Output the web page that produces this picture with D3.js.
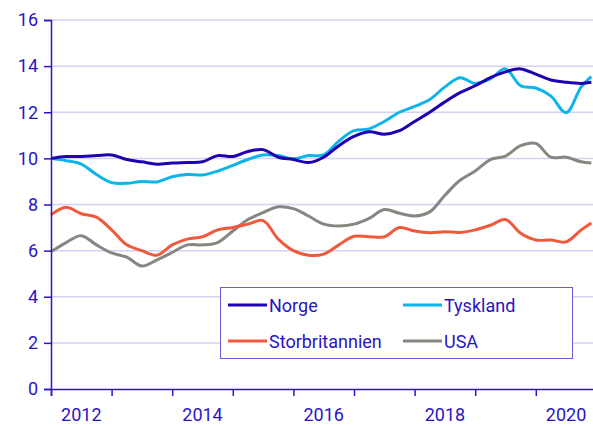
<!DOCTYPE html>
<html>
<head>
<meta charset="utf-8">
<script src="https://cdn.jsdelivr.net/npm/d3@7"></script>
<style>
  body { margin: 0; background: #fff; }
  svg { font-family: Roboto, "Noto Sans", sans-serif; }
</style>
</head>
<body>
<div id="chart"></div>
<script>
// months since Jan 2012
var months = [0, 3, 6, 9, 12, 15, 18, 21, 24, 27, 30, 33, 36, 39, 42, 45, 48, 51,
              54, 57, 60, 63, 66, 69, 72, 75, 78, 81, 84, 87, 90, 93, 96, 99, 102, 105, 107];

var norge = [10.0, 10.08, 10.08, 10.12, 10.15, 9.95, 9.85, 9.75, 9.8, 9.82, 9.85, 10.12,
             10.08, 10.3, 10.38, 10.05, 9.95, 9.82, 10.05, 10.55, 10.95, 11.15, 11.05, 11.2,
             11.6, 12.0, 12.45, 12.85, 13.15, 13.5, 13.75, 13.88, 13.65, 13.4, 13.3, 13.25, 13.3];

var tyskland = [10.0, 9.9, 9.75, 9.3, 8.95, 8.92, 9.0, 8.98, 9.2, 9.3, 9.28, 9.45,
                9.7, 9.95, 10.15, 10.12, 9.98, 10.12, 10.15, 10.75, 11.2, 11.28, 11.6, 12.0,
                12.25, 12.55, 13.1, 13.5, 13.25, 13.45, 13.88, 13.15, 13.05, 12.7, 11.98, 13.1, 13.55];

var storbritannien = [7.55, 7.88, 7.6, 7.45, 6.9, 6.25, 6.0, 5.8, 6.25, 6.5, 6.6, 6.9,
                      7.0, 7.15, 7.3, 6.5, 6.0, 5.8, 5.85, 6.25, 6.62, 6.6, 6.6, 7.0,
                      6.85, 6.78, 6.82, 6.79, 6.9, 7.1, 7.35, 6.75, 6.46, 6.46, 6.38, 6.9, 7.2];

var usa = [5.95, 6.35, 6.65, 6.25, 5.9, 5.72, 5.33, 5.6, 5.92, 6.25, 6.25, 6.35,
           6.85, 7.35, 7.65, 7.9, 7.82, 7.5, 7.15, 7.07, 7.15, 7.4, 7.78, 7.62,
           7.5, 7.68, 8.4, 9.05, 9.45, 9.95, 10.1, 10.55, 10.65, 10.05, 10.05, 9.85, 9.8];

var seriesNames = ['Norge', 'Tyskland', 'Storbritannien', 'USA'];
var yTicks = [0, 2, 4, 6, 8, 10, 12, 14, 16];
var yearLabels = [2012, 2014, 2016, 2018, 2020];

var colors = {
    Norge: '#2000b0',
    Tyskland: '#0db4ea',
    Storbritannien: '#f05a3c',
    USA: '#878781'
};
var textColor = '#2a14c4';

var w = 593, h = 426;
var margin = {top: 20, right: 0, bottom: 37, left: 51};
var iw = 545.4; // 9 years of 60.6 px

var svg = d3.select('#chart').append('svg')
    .attr('width', w)
    .attr('height', h);

var x = d3.scaleLinear().domain([0, 108]).range([margin.left, margin.left + iw]);
var y = d3.scaleLinear().domain([0, 16]).range([h - margin.bottom, margin.top]);

// gridlines
svg.append('g')
    .selectAll('line')
    .data(yTicks.slice(1))
    .enter().append('line')
    .attr('x1', margin.left).attr('x2', w)
    .attr('y1', function (d) { return y(d); })
    .attr('y2', function (d) { return y(d); })
    .attr('stroke', '#d4d2f4')
    .attr('stroke-width', 1.5);

// lines
var line = d3.line()
    .x(function (d) { return x(d[0]); })
    .y(function (d) { return y(d[1]); })
    .curve(d3.curveCatmullRom.alpha(0.5));

var data = {
    Norge: norge,
    Tyskland: tyskland,
    Storbritannien: storbritannien,
    USA: usa
};

var drawOrder = ['USA', 'Storbritannien', 'Tyskland', 'Norge'];
drawOrder.forEach(function (name) {
    var pts = months.map(function (m, i) { return [m, data[name][i]]; });
    svg.append('path')
        .datum(pts)
        .attr('d', line)
        .attr('fill', 'none')
        .attr('stroke', colors[name])
        .attr('stroke-width', 3)
        .attr('stroke-linejoin', 'round');
});

// y axis
var yAxis = svg.append('g')
    .attr('transform', 'translate(' + margin.left + ',0)')
    .call(d3.axisLeft(y).tickValues(yTicks).tickSize(7).tickPadding(6));
yAxis.select('.domain').attr('stroke', textColor).attr('stroke-width', 1.5);
yAxis.selectAll('.tick line').attr('stroke', textColor).attr('stroke-width', 1.5);
yAxis.selectAll('.tick text')
    .attr('fill', textColor)
    .style('font-size', '18px')
    .style('font-family', 'Roboto, sans-serif');

// x axis
var xAxis = svg.append('g')
    .attr('transform', 'translate(0,' + (h - margin.bottom) + ')')
    .call(d3.axisBottom(x).tickValues(d3.range(0, 109, 12)).tickSize(7).tickFormat(''));
xAxis.select('.domain').attr('stroke', textColor).attr('stroke-width', 1.5);
xAxis.selectAll('.tick line').attr('stroke', textColor).attr('stroke-width', 1.5);

svg.append('g')
    .selectAll('text')
    .data(yearLabels)
    .enter().append('text')
    .attr('x', function (d) { return x((d - 2012) * 12 + 6); })
    .attr('y', h - margin.bottom + 32)
    .attr('text-anchor', 'middle')
    .attr('fill', textColor)
    .style('font-size', '18px')
    .text(function (d) { return d; });

// legend
var lg = svg.append('g');
lg.append('rect')
    .attr('x', 220.5).attr('y', 287.5)
    .attr('width', 352).attr('height', 71)
    .attr('fill', '#fff')
    .attr('stroke', '#6a5ed8')
    .attr('stroke-width', 1);

var legendPos = [
    {name: 'Norge', x: 228, y: 305},
    {name: 'Tyskland', x: 403, y: 305},
    {name: 'Storbritannien', x: 228, y: 341},
    {name: 'USA', x: 403, y: 341}
];
legendPos.forEach(function (p) {
    lg.append('line')
        .attr('x1', p.x).attr('x2', p.x + 39)
        .attr('y1', p.y).attr('y2', p.y)
        .attr('stroke', colors[p.name])
        .attr('stroke-width', 3);
    lg.append('text')
        .attr('x', p.x + 41)
        .attr('y', p.y + 6.5)
        .attr('fill', textColor)
        .style('font-size', '18px')
        .text(p.name);
});
</script>
</body>
</html>
